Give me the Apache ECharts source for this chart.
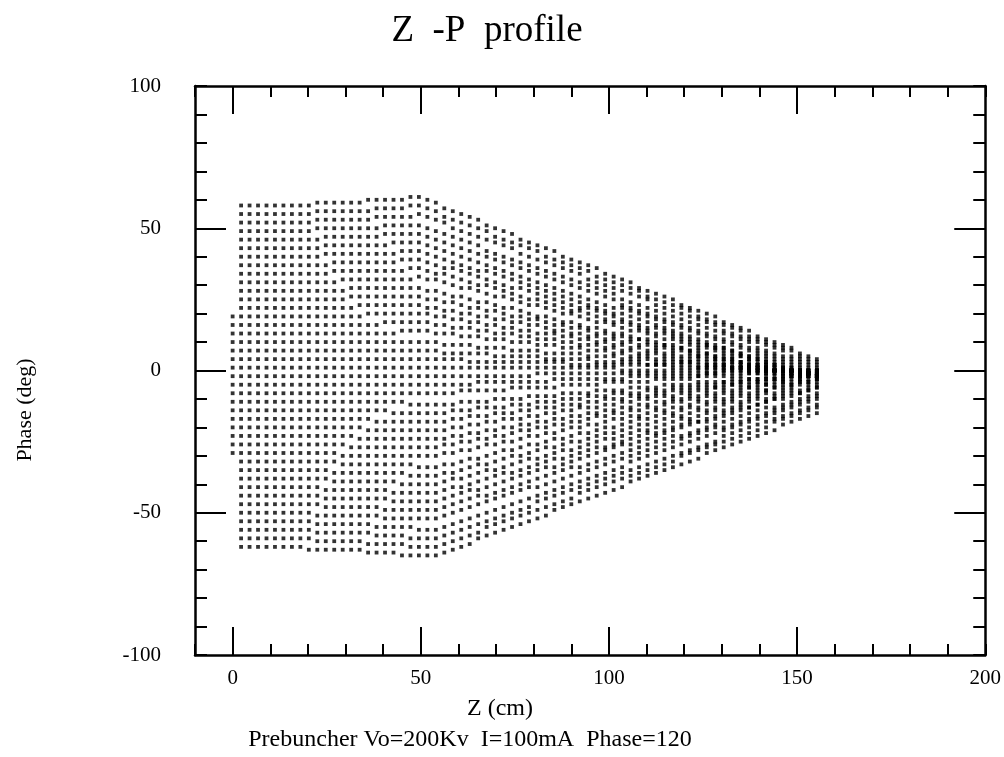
<!DOCTYPE html>
<html>
<head>
<meta charset="utf-8">
<script src="https://cdn.jsdelivr.net/npm/echarts@6.0.0/dist/echarts.min.js"></script>
<style>html,body{margin:0;padding:0;background:#fff}#c{width:1004px;height:757px}</style>
</head>
<body>
<div id="c"></div>
<script>
// z positions (cm) of the tracking steps (columns of dots)
const zCols = [0,2.25,4.5,6.75,9,11.25,13.5,15.75,18,20.25,22.5,24.75,27,29.25,31.5,33.75,36,38.25,40.5,42.75,45,47.25,49.5,51.75,54,56.25,58.5,60.75,63,65.25,67.5,69.75,72,74.25,76.5,78.75,81,83.25,85.5,87.75,90,92.25,94.5,96.75,99,101.25,103.5,105.75,108,110.25,112.5,114.75,117,119.25,121.5,123.75,126,128.25,130.5,132.75,135,137.25,139.5,141.75,144,146.25,148.5,150.75,153,155.25];

// phase (deg) of each particle at each z step (null = not drawn)
const particlePhase = [
[null,58,58,58,58,58,58,58,58,58,59,59,59,59,59,59,60,60,60,60,60,61,61,60,59,57,56,55,54,53,51,50,49,48,46,45,44,43,42,40,39,38,37,36,34,33,32,31,29,28,27,26,25,23,22,21,20,19,17,16,15,14,12,11,10,9,8,6,5,4],
[null,55,55,55,55,55,55,55,55,55,56,56,56,56,56,56,56,57,57,57,57,58,58,57,56,54,53,52,51,50,49,47,46,45,44,43,42,40,39,38,37,36,35,33,32,31,30,29,28,26,25,24,23,22,21,19,18,17,16,15,14,12,11,10,9,8,7,5,4,3],
[null,52,52,52,52,52,52,52,52,52,53,53,53,53,53,53,53,54,54,54,54,54,55,54,53,52,50,49,48,47,46,45,44,43,41,40,39,38,37,36,35,34,32,31,30,29,28,27,26,25,23,22,21,20,19,18,17,16,14,13,12,11,10,9,8,7,5,4,3,2],
[null,49,49,49,49,49,49,49,49,49,50,50,50,50,50,50,50,50,51,51,51,51,51,50,49,48,47,46,45,44,42,41,40,39,38,37,36,35,34,33,32,31,30,29,28,27,25,24,23,22,21,20,19,18,17,16,15,14,13,12,11,10,8,7,6,5,4,3,2,1],
[null,46,46,46,46,46,46,46,46,46,46,47,47,47,47,47,47,47,48,48,48,48,48,47,46,45,44,43,42,41,40,39,38,37,36,35,34,33,32,31,30,29,28,27,26,25,23,22,21,20,19,18,17,16,15,14,13,12,11,10,9,8,7,6,5,4,3,2,1,0],
[null,43,43,43,43,43,43,43,43,43,43,44,44,44,44,44,44,44,44,45,45,45,45,44,43,42,41,40,39,38,37,36,35,34,33,32,31,30,29,28,27,26,25,24,23,22,22,21,20,19,18,17,16,15,14,13,12,11,10,9,8,7,6,5,4,3,2,1,0,-1],
[null,40,40,40,40,40,40,40,40,40,40,41,41,41,41,41,41,41,41,41,42,42,42,41,40,39,38,37,36,35,35,34,33,32,31,30,29,28,27,26,25,24,23,22,21,20,20,19,18,17,16,15,14,13,12,11,10,9,8,7,6,5,5,4,3,2,1,0,-1,-2],
[null,37,37,37,37,37,37,37,37,37,37,37,38,38,38,38,38,38,38,38,39,39,39,38,37,36,36,35,34,33,32,31,30,29,29,28,27,26,25,24,23,22,22,21,20,19,18,17,16,15,15,14,13,12,11,10,9,8,8,7,6,5,4,3,2,1,1,0,-1,-2],
[null,34,34,34,34,34,34,34,34,34,34,34,35,35,35,35,35,35,35,35,35,36,36,35,34,34,33,32,31,30,30,29,28,27,26,25,25,24,23,22,21,21,20,19,18,17,17,16,15,14,13,13,12,11,10,9,9,8,7,6,5,4,4,3,2,1,0,0,-1,-2],
[null,31,31,31,31,31,31,31,31,31,31,31,31,32,32,32,32,32,32,32,32,32,33,32,32,31,30,29,29,28,27,26,26,25,24,23,23,22,21,20,20,19,18,17,17,16,15,14,14,13,12,11,11,10,9,8,8,7,6,5,5,4,3,2,2,1,0,-1,-1,-2],
[null,28,28,28,28,28,28,28,28,28,28,28,28,28,29,29,29,29,29,29,29,29,29,28,28,27,26,26,25,24,24,23,22,22,21,20,19,19,18,17,17,16,15,15,14,13,13,12,11,11,10,9,9,8,7,7,6,5,4,4,3,2,2,1,0,0,-1,-2,-2,-3],
[null,25,25,25,25,25,25,25,25,25,25,25,25,25,26,26,26,26,26,26,26,26,26,25,25,24,24,23,22,22,21,21,20,19,19,18,18,17,16,16,15,15,14,13,13,12,12,11,11,10,9,9,8,8,7,6,6,5,5,4,3,3,2,2,1,0,0,-1,-1,-2],
[null,22,22,22,22,22,22,22,22,22,22,22,22,22,22,23,23,23,23,23,23,23,23,22,22,21,21,20,20,19,19,18,18,17,17,16,16,15,14,14,13,13,12,12,11,11,10,10,9,9,8,8,7,7,6,5,5,4,4,3,3,2,2,1,1,0,0,-1,-1,-2],
[19,19,19,19,19,19,19,19,19,19,19,19,19,19,19,19,20,20,20,20,20,20,20,20,19,19,18,18,17,17,16,16,15,15,14,14,13,13,13,12,12,11,11,10,10,9,9,8,8,7,7,6,6,5,5,5,4,4,3,3,2,2,1,1,0,0,-1,-1,-2,-2],
[16,16,16,16,16,16,16,16,16,16,16,16,16,16,16,16,16,16,17,17,17,17,17,17,16,16,15,15,15,14,14,13,13,13,12,12,11,11,11,10,10,9,9,9,8,8,7,7,6,6,6,5,5,4,4,4,3,3,2,2,2,1,1,0,0,0,-1,-1,-2,-2],
[13,13,13,13,13,13,13,13,13,13,13,13,13,13,13,13,13,13,13,13,14,14,14,14,13,13,13,12,12,12,11,11,11,10,10,10,9,9,9,8,8,8,7,7,7,6,6,5,5,5,4,4,4,3,3,3,2,2,2,1,1,1,0,0,0,-1,-1,-1,-2,-2],
[10,10,10,10,10,10,10,10,10,10,10,10,10,10,10,10,10,10,10,10,10,10,10,10,10,9,9,9,9,8,8,8,8,7,7,7,7,6,6,6,6,6,5,5,5,5,4,4,4,4,3,3,3,3,3,2,2,2,2,1,1,1,1,0,0,0,0,-1,-1,-1],
[7,7,7,7,7,7,7,7,7,7,7,7,7,7,7,7,7,7,7,7,7,7,7,7,7,6,6,6,6,6,6,5,5,5,5,5,5,4,4,4,4,4,4,3,3,3,3,3,3,2,2,2,2,2,2,1,1,1,1,1,1,0,0,0,0,0,0,-1,-1,-1],
[4,4,4,4,4,4,4,4,4,4,4,4,4,4,4,4,4,4,4,4,4,4,4,4,4,4,4,4,3,3,3,3,3,3,3,3,3,3,3,3,2,2,2,2,2,2,2,2,2,2,2,2,1,1,1,1,1,1,1,1,1,1,1,1,0,0,0,0,0,0],
[1,1,1,1,1,1,1,1,1,1,1,1,1,1,1,1,1,1,1,1,1,1,1,1,1,1,1,1,1,1,1,1,1,1,1,1,1,1,1,1,1,1,1,1,1,1,0,0,0,0,0,0,0,0,0,0,0,0,0,0,0,0,0,0,0,0,0,0,0,0],
[-2,-2,-2,-2,-2,-2,-2,-2,-2,-2,-2,-2,-2,-2,-2,-2,-2,-2,-2,-2,-2,-2,-2,-2,-2,-2,-2,-2,-2,-2,-2,-2,-2,-2,-2,-2,-1,-1,-1,-1,-1,-1,-1,-1,-1,-1,-1,-1,-1,-1,-1,-1,-1,-1,-1,-1,-1,-1,0,0,0,0,0,0,0,0,0,0,0,0],
[-5,-5,-5,-5,-5,-5,-5,-5,-5,-5,-5,-5,-5,-5,-5,-5,-5,-5,-5,-5,-5,-5,-5,-5,-5,-5,-5,-5,-5,-4,-4,-4,-4,-4,-4,-4,-4,-4,-3,-3,-3,-3,-3,-3,-3,-3,-3,-2,-2,-2,-2,-2,-2,-2,-2,-2,-1,-1,-1,-1,-1,-1,-1,-1,-1,0,0,0,0,0],
[-8,-8,-8,-8,-8,-8,-8,-8,-8,-8,-8,-8,-8,-8,-8,-8,-8,-8,-8,-8,-8,-8,-8,-8,-8,-8,-8,-7,-7,-7,-7,-7,-7,-6,-6,-6,-6,-6,-6,-5,-5,-5,-5,-5,-4,-4,-4,-4,-4,-4,-3,-3,-3,-3,-3,-2,-2,-2,-2,-2,-2,-1,-1,-1,-1,-1,-1,0,0,0],
[-11,-11,-11,-11,-11,-11,-11,-11,-11,-11,-11,-11,-11,-11,-11,-11,-11,-11,-11,-11,-11,-12,-12,-12,-12,-12,-12,-11,-11,-11,-11,-10,-10,-10,-10,-9,-9,-9,-9,-8,-8,-8,-8,-7,-7,-7,-7,-6,-6,-6,-6,-5,-5,-5,-5,-4,-4,-4,-4,-3,-3,-3,-3,-2,-2,-2,-2,-1,-1,-1],
[-14,-14,-14,-14,-14,-14,-14,-14,-14,-14,-14,-14,-14,-14,-14,-14,-14,-14,-14,-15,-15,-15,-15,-15,-15,-15,-14,-14,-14,-13,-13,-13,-13,-12,-12,-12,-11,-11,-11,-10,-10,-10,-9,-9,-9,-8,-8,-8,-8,-7,-7,-7,-6,-6,-6,-5,-5,-5,-4,-4,-4,-3,-3,-3,-3,-2,-2,-2,-1,-1],
[-17,-17,-17,-17,-17,-17,-17,-17,-17,-17,-17,-17,-17,-17,-17,-17,-17,-18,-18,-18,-18,-18,-18,-18,-18,-18,-17,-17,-16,-16,-16,-15,-15,-15,-14,-14,-13,-13,-13,-12,-12,-12,-11,-11,-10,-10,-10,-9,-9,-9,-8,-8,-7,-7,-7,-6,-6,-6,-5,-5,-4,-4,-4,-3,-3,-3,-2,-2,-1,-1],
[-20,-20,-20,-20,-20,-20,-20,-20,-20,-20,-20,-20,-20,-20,-20,-20,-21,-21,-21,-21,-21,-21,-21,-21,-21,-21,-20,-20,-19,-19,-18,-18,-17,-17,-17,-16,-16,-15,-15,-14,-14,-13,-13,-13,-12,-12,-11,-11,-10,-10,-9,-9,-9,-8,-8,-7,-7,-6,-6,-5,-5,-5,-4,-4,-3,-3,-2,-2,-1,-1],
[-23,-23,-23,-23,-23,-23,-23,-23,-23,-23,-23,-23,-23,-23,-23,-24,-24,-24,-24,-24,-24,-24,-24,-24,-24,-24,-23,-23,-22,-22,-21,-21,-20,-20,-19,-19,-18,-18,-17,-17,-16,-16,-15,-15,-14,-14,-13,-13,-12,-12,-11,-11,-10,-10,-9,-9,-8,-8,-7,-7,-6,-6,-5,-5,-4,-4,-3,-3,-2,-2],
[-26,-26,-26,-26,-26,-26,-26,-26,-26,-26,-26,-26,-26,-26,-27,-27,-27,-27,-27,-27,-27,-27,-27,-27,-27,-26,-26,-25,-25,-24,-24,-23,-23,-22,-21,-21,-20,-20,-19,-19,-18,-18,-17,-16,-16,-15,-15,-14,-14,-13,-13,-12,-11,-11,-10,-10,-9,-9,-8,-8,-7,-6,-6,-5,-5,-4,-4,-3,-3,-2],
[-29,-29,-29,-29,-29,-29,-29,-29,-29,-29,-29,-29,-29,-30,-30,-30,-30,-30,-30,-30,-30,-30,-30,-30,-30,-29,-29,-28,-28,-27,-26,-26,-25,-25,-24,-23,-23,-22,-22,-21,-20,-20,-19,-19,-18,-17,-17,-16,-16,-15,-14,-14,-13,-13,-12,-11,-11,-10,-10,-9,-8,-8,-7,-7,-6,-5,-5,-4,-4,-3],
[null,-32,-32,-32,-32,-32,-32,-32,-32,-32,-32,-32,-32,-33,-33,-33,-33,-33,-33,-33,-33,-33,-34,-34,-34,-33,-33,-32,-31,-31,-30,-29,-28,-28,-27,-26,-26,-25,-24,-24,-23,-22,-22,-21,-20,-20,-19,-18,-17,-17,-16,-15,-15,-14,-13,-13,-12,-11,-11,-10,-9,-9,-8,-7,-6,-6,-5,-4,-4,-3],
[null,-35,-35,-35,-35,-35,-35,-35,-35,-35,-35,-35,-36,-36,-36,-36,-36,-36,-36,-36,-36,-37,-37,-37,-37,-36,-36,-35,-34,-33,-33,-32,-31,-30,-30,-29,-28,-27,-27,-26,-25,-25,-24,-23,-22,-22,-21,-20,-19,-19,-18,-17,-16,-16,-15,-14,-14,-13,-12,-11,-11,-10,-9,-8,-8,-7,-6,-5,-5,-4],
[null,-38,-38,-38,-38,-38,-38,-38,-38,-38,-38,-38,-39,-39,-39,-39,-39,-39,-39,-39,-40,-40,-40,-40,-40,-39,-38,-38,-37,-36,-35,-35,-34,-33,-32,-31,-31,-30,-29,-28,-28,-27,-26,-25,-24,-24,-23,-22,-21,-21,-20,-19,-18,-17,-17,-16,-15,-14,-14,-13,-12,-11,-10,-10,-9,-8,-7,-7,-6,-5],
[null,-41,-41,-41,-41,-41,-41,-41,-41,-41,-41,-42,-42,-42,-42,-42,-42,-42,-42,-43,-43,-43,-43,-43,-43,-42,-41,-41,-40,-39,-38,-37,-36,-36,-35,-34,-33,-32,-31,-31,-30,-29,-28,-27,-27,-26,-25,-24,-23,-22,-22,-21,-20,-19,-18,-18,-17,-16,-15,-14,-13,-13,-12,-11,-10,-9,-8,-8,-7,-6],
[null,-44,-44,-44,-44,-44,-44,-44,-44,-44,-44,-45,-45,-45,-45,-45,-45,-45,-45,-46,-46,-46,-46,-46,-46,-45,-44,-43,-42,-42,-41,-40,-39,-38,-37,-36,-35,-34,-34,-33,-32,-31,-30,-29,-28,-27,-26,-26,-25,-24,-23,-22,-21,-20,-19,-18,-18,-17,-16,-15,-14,-13,-12,-11,-10,-10,-9,-8,-7,-6],
[null,-47,-47,-47,-47,-47,-47,-47,-47,-47,-47,-48,-48,-48,-48,-48,-48,-48,-49,-49,-49,-49,-49,-49,-49,-48,-47,-46,-45,-44,-44,-43,-42,-41,-40,-39,-38,-37,-36,-35,-34,-34,-33,-32,-31,-30,-29,-28,-27,-26,-25,-24,-23,-23,-22,-21,-20,-19,-18,-17,-16,-15,-14,-13,-13,-12,-11,-10,-9,-8],
[null,-50,-50,-50,-50,-50,-50,-50,-50,-50,-51,-51,-51,-51,-51,-51,-51,-51,-52,-52,-52,-52,-52,-52,-52,-51,-50,-49,-48,-47,-46,-45,-44,-43,-42,-41,-41,-40,-39,-38,-37,-36,-35,-34,-33,-32,-31,-30,-29,-28,-27,-26,-25,-24,-23,-22,-21,-20,-20,-19,-18,-17,-16,-15,-14,-13,-12,-11,-10,-9],
[null,-53,-53,-53,-53,-53,-53,-53,-53,-53,-54,-54,-54,-54,-54,-54,-54,-55,-55,-55,-55,-55,-56,-56,-56,-55,-54,-53,-52,-51,-50,-49,-48,-47,-46,-45,-44,-43,-42,-41,-40,-39,-38,-37,-36,-35,-34,-32,-31,-30,-29,-28,-27,-26,-25,-24,-23,-22,-21,-20,-19,-18,-17,-16,-15,-14,-13,-12,-11,-10],
[null,-56,-56,-56,-56,-56,-56,-56,-56,-56,-57,-57,-57,-57,-57,-57,-57,-58,-58,-58,-58,-59,-59,-59,-59,-58,-57,-56,-55,-54,-53,-52,-51,-50,-49,-48,-46,-45,-44,-43,-42,-41,-40,-39,-38,-37,-36,-35,-34,-33,-32,-31,-30,-29,-28,-27,-26,-25,-23,-22,-21,-20,-19,-18,-17,-16,-15,-14,-13,-12],
[null,-59,-59,-59,-59,-59,-59,-59,-59,-59,-60,-60,-60,-60,-60,-60,-61,-61,-61,-61,-61,-62,-62,-62,-62,-61,-60,-59,-58,-57,-55,-54,-53,-52,-51,-50,-49,-48,-47,-46,-45,-43,-42,-41,-40,-39,-38,-37,-36,-35,-34,-33,-32,-30,-29,-28,-27,-26,-25,-24,-23,-22,-21,-20,-18,-17,-16,-15,-14,-13],
[null,-62,-62,-62,-62,-62,-62,-62,-62,-63,-63,-63,-63,-63,-63,-63,-64,-64,-64,-64,-65,-65,-65,-65,-65,-64,-63,-62,-61,-59,-58,-57,-56,-55,-54,-53,-52,-51,-49,-48,-47,-46,-45,-44,-43,-42,-41,-39,-38,-37,-36,-35,-34,-33,-32,-31,-29,-28,-27,-26,-25,-24,-23,-22,-21,-19,-18,-17,-16,-15]
];

const xLabelValues = [0, 50, 100, 150, 200];
const xMajorTicks = [0, 50, 100, 150];
const yLabelValues = [-100, -50, 0, 50, 100];
const yMajorTicks = [-50, 0, 50];

const titleText = 'Z  -P  profile';
const xName = 'Z (cm)';
const yName = 'Phase (deg)';
const caption = 'Prebuncher Vo=200Kv  I=100mA  Phase=120';

const points = [];
particlePhase.forEach(row => {
  row.forEach((v, c) => { if (v !== null && c < zCols.length) points.push([zCols[c], v]); });
});

const FONT = 'Liberation Serif, Times New Roman, serif';
const BLACK = '#000';

function xAx(pos, major) {
  return {
    type: 'value', min: -10, max: 200, interval: 10, position: pos,
    axisLine: { show: !major, onZero: false, lineStyle: { color: BLACK, width: 2.5 } },
    axisTick: major
      ? { inside: true, length: 28, customValues: xMajorTicks, lineStyle: { color: BLACK, width: 2 } }
      : { inside: true, length: 11, lineStyle: { color: BLACK, width: 2 } },
    axisLabel: (pos === 'bottom' && !major)
      ? { customValues: xLabelValues, color: BLACK, fontFamily: FONT, fontSize: 21, margin: 13 }
      : { show: false },
    splitLine: { show: false }
  };
}
function yAx(pos, major) {
  return {
    type: 'value', min: -100, max: 100, interval: 10, position: pos,
    axisLine: { show: !major, onZero: false, lineStyle: { color: BLACK, width: 2.5 } },
    axisTick: major
      ? { inside: true, length: 31, customValues: yMajorTicks, lineStyle: { color: BLACK, width: 2 } }
      : { inside: true, length: 12, lineStyle: { color: BLACK, width: 2 } },
    axisLabel: (pos === 'left' && !major)
      ? { customValues: yLabelValues, color: BLACK, fontFamily: FONT, fontSize: 21, margin: 34 }
      : { show: false },
    splitLine: { show: false }
  };
}

const chart = echarts.init(document.getElementById('c'), null, { renderer: 'canvas' });
chart.setOption({
  animation: false,
  backgroundColor: '#fff',
  grid: { left: 195, right: 17, top: 86, bottom: 102, containLabel: false },
  xAxis: [xAx('bottom', false), xAx('bottom', true), xAx('top', false), xAx('top', true)],
  yAxis: [yAx('left', false), yAx('left', true), yAx('right', false), yAx('right', true)],
  series: [{
    type: 'scatter', xAxisIndex: 0, yAxisIndex: 0,
    symbol: 'rect', symbolSize: 3.8, silent: true,
    itemStyle: { color: BLACK },
    data: points
  }],
  graphic: [
    { type: 'text', x: 487, y: 31, style: { text: titleText, fontFamily: FONT, fontSize: 37, fill: BLACK, align: 'center', verticalAlign: 'middle' } },
    { type: 'text', x: 500, y: 709, style: { text: xName, fontFamily: FONT, fontSize: 24, fill: BLACK, align: 'center', verticalAlign: 'middle' } },
    { type: 'text', x: 470, y: 740, style: { text: caption, fontFamily: FONT, fontSize: 24, fill: BLACK, align: 'center', verticalAlign: 'middle' } },
    { type: 'text', x: 25, y: 410, rotation: Math.PI / 2, style: { text: yName, fontFamily: FONT, fontSize: 22, fill: BLACK, align: 'center', verticalAlign: 'middle' } }
  ]
});
</script>
</body>
</html>
